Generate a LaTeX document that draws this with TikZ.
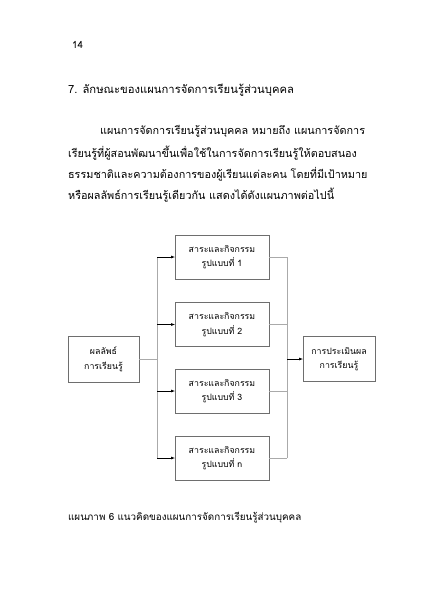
\documentclass[tikz,border=0pt]{standalone}
\usepackage{fontspec}
\newfontfamily\thaifont[Script=Thai]{Loma}
\usetikzlibrary{arrows,positioning,calc}
\definecolor{boxgray}{RGB}{110,110,110}
\definecolor{linegray}{RGB}{170,170,170}

\begin{document}
\begin{tikzpicture}[x=1cm,y=1cm,
  txt/.style={anchor=west, inner sep=0pt, font=\thaifont\fontsize{15.4}{18}\selectfont},
  stepbox/.style={draw=boxgray, line width=0.7pt, minimum width=4.7cm, minimum height=2.2cm,
    align=center, font=\thaifont\fontsize{12.5}{21}\selectfont},
  sidebox/.style={stepbox, minimum width=3.6cm, minimum height=2.25cm},
  feed/.style={draw=linegray, line width=0.6pt},
  go/.style={draw=black, line width=0.8pt, -latex}]

% page frame (A4 at 20px per cm)
\useasboundingbox (0,0) rectangle (21,-29.75);

% === Page text ===
\node[txt, font=\thaifont\fontsize{14}{17}\selectfont] (pagenum) at (3.6,-2.25) {14};
\node[txt, font=\thaifont\fontsize{16}{19}\selectfont] (title) at (3.4,-4.5) {7. ลักษณะของแผนการจัดการเรียนรู้ส่วนบุคคล};

\node[txt] (line1) at (5.0,-6.55) {แผนการจัดการเรียนรู้ส่วนบุคคล หมายถึง แผนการจัดการ};
\node[txt] (line2) at (3.4,-7.65) {เรียนรู้ที่ผู้สอนพัฒนาขึ้นเพื่อใช้ในการจัดการเรียนรู้ให้ตอบสนอง};
\node[txt] (line3) at (3.4,-8.7) {ธรรมชาติและความต้องการของผู้เรียนแต่ละคน โดยที่มีเป้าหมาย};
\node[txt] (line4) at (3.4,-9.75) {หรือผลลัพธ์การเรียนรู้เดียวกัน แสดงได้ดังแผนภาพต่อไปนี้};

% === Diagram ===
\node[sidebox, minimum width=3.55cm, minimum height=2.3cm] (goal) at (5.175,-17.95) {ผลลัพธ์\\การเรียนรู้};

\node[stepbox] (m1) at (11.1,-12.85) {สาระและกิจกรรม\\รูปแบบที่ 1};
\node[stepbox] (m2) at (11.1,-16.225) {สาระและกิจกรรม\\รูปแบบที่ 2};
\node[stepbox] (m3) at (11.1,-19.55) {สาระและกิจกรรม\\รูปแบบที่ 3};
\node[stepbox] (m4) at (11.1,-22.9) {สาระและกิจกรรม\\รูปแบบที่ n};

\node[sidebox] (eval) at (16.95,-17.95) {การประเมินผล\\การเรียนรู้};

% split and join points
\coordinate (splitL) at (7.85,-17.95);
\coordinate (topL) at (7.85,-12.85);
\coordinate (botL) at (7.85,-22.9);
\coordinate (joinR) at (14.35,-17.95);
\coordinate (topR) at (14.35,-12.85);
\coordinate (botR) at (14.35,-22.9);

% left fan-out
\draw[feed] (goal.east) -- (splitL);
\draw[feed] (topL) -- (botL);
\foreach \m in {m1,m2,m3,m4}
  \draw[go] (\m.west -| splitL) -- (\m.west);

% right fan-in
\foreach \m in {m1,m2,m3,m4}
  \draw[feed] (\m.east) -- (\m.east -| joinR);
\draw[feed] (topR) -- (botR);
\draw[go] (joinR) -- (eval.west);

% caption
\node[txt, font=\thaifont\fontsize{14}{17}\selectfont] (caption) at (3.4,-25.9) {แผนภาพ 6 แนวคิดของแผนการจัดการเรียนรู้ส่วนบุคคล};

\end{tikzpicture}
\end{document}
